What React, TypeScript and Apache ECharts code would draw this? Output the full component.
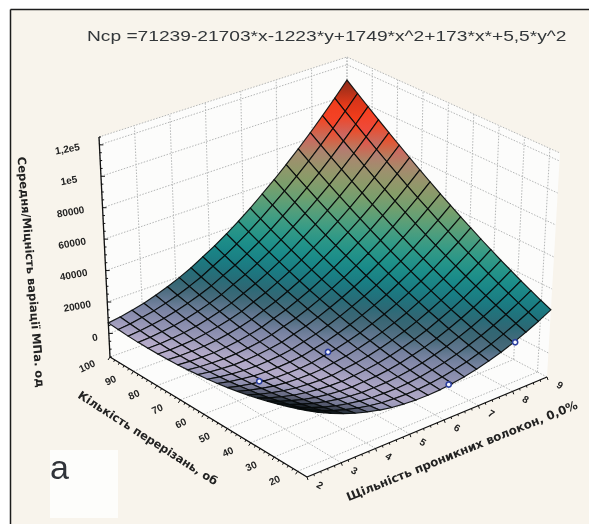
import React, { useEffect, useRef } from "react";
import * as echarts from "echarts";

const titleText = "Ncp =71239-21703*x-1223*y+1749*x^2+173*x*+5,5*y^2";
const zAxisTitle = "Середня/Міцність варіації МПа. од";
const yAxisTitle = "Кількість перерізань, об";
const xAxisTitle = "Щільність проникних волокон, 0,0%";
const panelLabel = "a";

const xTicks = [2, 3, 4, 5, 6, 7, 8, 9];
const yTicks = [100, 90, 80, 70, 60, 50, 40, 30, 20];
const zTicks = [0, 20000, 40000, 60000, 80000, 100000, 120000];
const zTickLabels = ["0", "20000", "40000", "60000", "80000", "1e5", "1,2e5"];
const xRange = [2, 9];
const yRange = [16, 100];
const zRange = [-15000, 125000];

// surface heights in thousands, one row per y step (front to back), one column per x step
const surfaceRows = [
  [25, 21, 17.5, 14.3, 11.6, 9.4, 7.5, 6.1, 5.2, 4.6, 4.5, 4.8, 5.6, 6.7, 8.3, 10.4, 12.8, 15.7, 19.1, 22.8, 27],
  [22.7, 18.9, 15.7, 12.7, 10.3, 8.3, 6.7, 5.5, 4.9, 4.6, 4.7, 5.3, 6.3, 7.7, 9.5, 11.9, 14.5, 17.7, 21.3, 25.3, 29.7],
  [20.5, 17, 14, 11.3, 9.1, 7.4, 6, 5.1, 4.8, 4.7, 5.1, 5.9, 7.2, 8.8, 10.9, 13.5, 16.4, 19.8, 23.7, 27.9, 32.6],
  [18.5, 15.2, 12.5, 10, 8.1, 6.6, 5.5, 4.8, 4.8, 5, 5.6, 6.7, 8.2, 10.1, 12.4, 15.3, 18.4, 22.1, 26.2, 30.7, 35.6],
  [16.6, 13.6, 11.1, 8.9, 7.2, 6, 5.1, 4.7, 5, 5.4, 6.3, 7.6, 9.4, 11.5, 14.1, 17.2, 20.6, 24.5, 28.9, 33.6, 38.8],
  [14.9, 12.1, 9.9, 7.9, 6.5, 5.5, 4.9, 4.7, 5.3, 6, 7.1, 8.7, 10.7, 13.1, 15.9, 19.3, 22.9, 27.1, 31.7, 36.7, 42.1],
  [13.3, 10.8, 8.8, 7.1, 5.9, 5.2, 4.8, 4.9, 5.8, 6.7, 8.1, 9.9, 12.2, 14.8, 17.9, 21.5, 25.4, 29.8, 34.7, 39.9, 45.6],
  [11.8, 9.6, 7.9, 6.4, 5.5, 5, 4.9, 5.2, 6.4, 7.5, 9.2, 11.3, 13.8, 16.7, 20, 23.9, 28, 32.7, 37.8, 43.3, 49.2],
  [10.5, 8.6, 7.1, 5.9, 5.2, 5, 5.1, 5.7, 7.1, 8.5, 10.5, 12.8, 15.6, 18.7, 22.3, 26.4, 30.8, 35.7, 41.1, 46.8, 53],
  [9.4, 7.7, 6.5, 5.5, 5.1, 5.1, 5.5, 6.3, 8, 9.6, 11.9, 14.5, 17.5, 20.9, 24.7, 29.1, 33.7, 38.9, 44.5, 50.5, 56.9],
  [8.4, 7, 6, 5.3, 5.1, 5.4, 6, 7.1, 9, 10.9, 13.4, 16.3, 19.6, 23.2, 27.3, 31.9, 36.8, 42.2, 48.1, 54.3, 61],
  [7.6, 6.4, 5.7, 5.2, 5.3, 5.8, 6.7, 8, 10.2, 12.3, 15.1, 18.3, 21.8, 25.7, 30, 34.9, 40, 45.7, 51.8, 58.3, 65.2],
  [6.9, 6, 5.5, 5.3, 5.6, 6.4, 7.5, 9.1, 11.5, 13.9, 16.9, 20.3, 24.1, 28.3, 32.9, 38, 43.4, 49.3, 55.7, 62.4, 69.6],
  [6.3, 5.7, 5.5, 5.5, 6.1, 7.1, 8.5, 10.3, 13, 15.6, 18.9, 22.5, 26.6, 31.1, 35.9, 41.3, 46.9, 53.1, 59.7, 66.7, 74.1],
  [5.9, 5.5, 5.6, 5.9, 6.7, 8, 9.6, 11.7, 14.6, 17.5, 21, 24.9, 29.2, 34, 39.1, 44.7, 50.6, 57, 63.9, 71.1, 78.8],
  [5.7, 5.5, 5.9, 6.4, 7.5, 9, 10.9, 13.2, 16.4, 19.5, 23.3, 27.4, 32, 37.1, 42.4, 48.3, 54.4, 61.1, 68.2, 75.7, 83.6],
  [5.6, 5.7, 6.3, 7.1, 8.4, 10.2, 12.3, 14.9, 18.3, 21.7, 25.7, 30.1, 34.9, 40.3, 45.9, 52, 58.4, 65.3, 72.7, 80.4, 88.6],
  [5.6, 6, 6.9, 7.9, 9.5, 11.5, 13.9, 16.7, 20.4, 24, 28.3, 32.9, 38, 43.7, 49.5, 55.9, 62.5, 69.7, 77.3, 85.3, 93.7],
  [5.8, 6.5, 7.6, 8.9, 10.7, 13, 15.6, 18.7, 22.6, 26.5, 31, 35.9, 41.2, 47.2, 53.3, 59.9, 66.8, 74.2, 82.1, 90.3, 99],
  [6.2, 7.1, 8.5, 10, 12.1, 14.6, 17.5, 20.8, 25, 29.1, 33.9, 39, 44.6, 50.8, 57.2, 64, 71.2, 78.9, 87, 95.5, 104.4],
  [6.7, 7.8, 9.4, 11.2, 13.6, 16.4, 19.5, 23.1, 27.5, 31.9, 36.9, 42.3, 48.1, 54.6, 61.2, 68.3, 75.8, 83.7, 92.1, 100.8, 110],
];

// measured points: x, y, z
const observedX = [2.95, 4.95, 6.1, 8.0];
const observedY = [50, 50, 16, 16];
const observedZ = [6300, 8000, 5900, 15500];

const colorHeights = [4500, 6000, 7000, 9500, 13000, 15000, 18000, 22000, 30000, 40000, 50000, 60000, 68000, 76000, 82000, 85000, 88000, 100000, 105000, 110000];
const colorValues = ["#c4b8d2", "#b2a9c8", "#9a99b9", "#878bac", "#6c7c99", "#4f6e80", "#35626f", "#236c78", "#158488", "#25988a", "#52a07e", "#7fa066", "#94986a", "#a88a70", "#c07272", "#e8504a", "#fb3f1c", "#f83e1a", "#c83018", "#8a2a18"];

// the viewing transform of the 3D box: [front, right, left, back]
const floorCorners = [[307, 477], [547, 377], [110, 357], [347, 272]];
const ceilCorners = [[307, 245], [560, 153], [99, 137], [347, 57]];

const mix = (a: number[], b: number[], t: number) => [a[0] + (b[0] - a[0]) * t, a[1] + (b[1] - a[1]) * t];
const corner = (c: number[][], u: number, v: number) => mix(mix(c[0], c[1], u), mix(c[2], c[3], u), v);
const project = (x: number, y: number, z: number) => {
  const u = (x - xRange[0]) / (xRange[1] - xRange[0]);
  const v = (y - yRange[0]) / (yRange[1] - yRange[0]);
  const t = (z - zRange[0]) / (zRange[1] - zRange[0]);
  return mix(corner(floorCorners, u, v), corner(ceilCorners, u, v), t);
};
const hex = (s: string) => [1, 3, 5].map((k) => parseInt(s.slice(k, k + 2), 16));
const colorAt = (z: number, shade: number) => {
  let k = 0;
  while (k < colorHeights.length - 2 && z > colorHeights[k + 1]) k++;
  const t = Math.min(1, Math.max(0, (z - colorHeights[k]) / (colorHeights[k + 1] - colorHeights[k])));
  const a = hex(colorValues[k]);
  const b = hex(colorValues[k + 1]);
  const c = a.map((p, n) => Math.round((p + (b[n] - p) * t) * shade));
  return `rgb(${c[0]},${c[1]},${c[2]})`;
};

const rowCount = surfaceRows.length;
const colCount = surfaceRows[0].length;
const gridX = (i: number) => xRange[0] + ((xRange[1] - xRange[0]) * i) / (colCount - 1);
const gridY = (j: number) => yRange[0] + ((yRange[1] - yRange[0]) * j) / (rowCount - 1);

const cells: number[][] = [];
for (let j = rowCount - 2; j >= 0; j--) for (let i = colCount - 2; i >= 0; i--) cells.push([i, j]);

type Seg = [number[], number[]];
const wallSegs: Seg[] = [];
const [x0, x1] = xRange;
const [y0, y1] = yRange;
const [z0, z1] = zRange;
xTicks.forEach((x) => {
  wallSegs.push([[x, y0, z0], [x, y1, z0]]);
  wallSegs.push([[x, y1, z0], [x, y1, z1]]);
});
yTicks.forEach((y) => {
  wallSegs.push([[x0, y, z0], [x1, y, z0]]);
  wallSegs.push([[x1, y, z0], [x1, y, z1]]);
});
[...zTicks, z1].forEach((z) => {
  wallSegs.push([[x0, y1, z], [x1, y1, z]]);
  wallSegs.push([[x1, y1, z], [x1, y0, z]]);
});

const axisLines: Seg[] = [
  [[x0, y1, z0], [x0, y1, z1]],
  [[x0, y1, z0], [x0, y0, z0]],
  [[x0, y0, z0], [x1, y0, z0]],
];

type Tick = { p: number[]; dx: number; dy: number };
const tickList: Tick[] = [];
for (let z = -15000; z <= 125000; z += 5000) {
  const major = z % 20000 === 0;
  tickList.push({ p: [x0, y1, z], dx: major ? 4 : 2, dy: 0 });
}
for (let y = 20; y <= 100; y += 2) {
  const major = y % 10 === 0;
  tickList.push({ p: [x0, y, z0], dx: major ? -2 : -1, dy: major ? 3 : 2 });
}
for (let x = 2; x <= 9.001; x += 0.2) {
  const major = Math.abs(x - Math.round(x)) < 0.01;
  tickList.push({ p: [x, y0, z0], dx: major ? 1 : 0.5, dy: major ? 3 : 2 });
}

type Lab = { text: string; p: number[]; dx: number; dy: number; rot: number; size: number };
const labels: Lab[] = [
  ...zTicks.map((z, k) => ({ text: zTickLabels[k], p: [x0, y1, z], dx: k === 0 ? -14 : k === 1 ? -30 : -32, dy: 4, rot: 10, size: 10 })),
  ...yTicks.map((y) => ({ text: String(y), p: [x0, y, z0], dx: -23, dy: 9, rot: 25, size: 10 })),
  ...xTicks.map((x) => ({ text: String(x), p: [x, y0, z0], dx: 13, dy: 8, rot: -30, size: 10 })),
];

const App = () => {
  const ref = useRef<HTMLDivElement>(null);
  useEffect(() => {
    document.body.style.margin = "0";
    document.body.style.overflow = "hidden";
    const chart = echarts.init(ref.current!, undefined, { renderer: "svg" });
    const polygon = (api: any, pts: number[][]) => pts.map((p) => api.coord(p));
    const wallFaces = [
      [[x0, y1, z0], [x1, y1, z0], [x1, y1, z1], [x0, y1, z1]],
      [[x1, y0, z0], [x1, y1, z0], [x1, y1, z1], [x1, y0, z1]],
      [[x0, y0, z0], [x1, y0, z0], [x1, y1, z0], [x0, y1, z0]],
    ];
    chart.setOption({
      animation: false,
      backgroundColor: "#f8f4ec",
      grid: { left: 0, right: 0, top: 0, bottom: 0 },
      xAxis: { type: "value", min: 0, max: 589, show: false },
      yAxis: { type: "value", min: 0, max: 524, inverse: true, show: false },
      graphic: [
        { type: "rect", shape: { x: 0, y: 0, width: 589, height: 9 }, style: { fill: "#ffffff" } },
        { type: "rect", shape: { x: 0, y: 0, width: 10, height: 524 }, style: { fill: "#ffffff" } },
        { type: "line", shape: { x1: 10.5, y1: 9.5, x2: 589, y2: 9.5 }, style: { stroke: "#1c1c1c", lineWidth: 1.5 } },
        { type: "line", shape: { x1: 10.5, y1: 9.5, x2: 10.5, y2: 524 }, style: { stroke: "#1c1c1c", lineWidth: 1.5 } },
        { type: "rect", shape: { x: 50, y: 450, width: 68, height: 68 }, style: { fill: "#fdfdfb" } },
        { type: "text", x: 87, y: 29, scaleX: 1.37, style: { text: titleText, font: "14px 'Liberation Sans'", fill: "#33373a" } },
        { type: "text", x: 50, y: 450, style: { text: panelLabel, font: "34px 'Liberation Sans'", fill: "#30343a" } },
        { type: "text", x: 31, y: 272, rotation: (-85.3 * Math.PI) / 180, style: { text: zAxisTitle, font: "bold 11.5px 'DejaVu Sans'", fill: "#222", textAlign: "center", textVerticalAlign: "middle" } },
        { type: "text", x: 148, y: 438, rotation: (-32.7 * Math.PI) / 180, style: { text: yAxisTitle, font: "bold 11.5px 'DejaVu Sans'", fill: "#222", textAlign: "center", textVerticalAlign: "middle" } },
        { type: "text", x: 462, y: 451, rotation: (22 * Math.PI) / 180, style: { text: xAxisTitle, font: "bold 11.8px 'DejaVu Sans'", fill: "#222", textAlign: "center", textVerticalAlign: "middle" } },
      ],
      series: [
        {
          type: "custom",
          coordinateSystem: "cartesian2d",
          clip: false,
          silent: true,
          data: wallFaces.map((_, k) => [k]),
          renderItem: (p: any, api: any) => ({
            type: "polygon",
            shape: { points: polygon(api, wallFaces[p.dataIndex].map((c) => project(c[0], c[1], c[2]))) },
            style: { fill: "#fcfcfb", stroke: "none" },
          }),
          z: 2,
        },
        {
          type: "custom",
          coordinateSystem: "cartesian2d",
          clip: false,
          silent: true,
          data: wallSegs.map((_, k) => [k]),
          renderItem: (p: any, api: any) => {
            const [a, b] = wallSegs[p.dataIndex];
            const pa = api.coord(project(a[0], a[1], a[2]));
            const pb = api.coord(project(b[0], b[1], b[2]));
            return {
              type: "line",
              shape: { x1: pa[0], y1: pa[1], x2: pb[0], y2: pb[1] },
              style: { stroke: "#b4b6b6", lineWidth: 1, lineDash: [1.5, 1.5] },
            };
          },
          z: 3,
        },
        {
          type: "custom",
          coordinateSystem: "cartesian2d",
          clip: false,
          silent: true,
          data: axisLines.map((_, k) => [k]),
          renderItem: (p: any, api: any) => {
            const [a, b] = axisLines[p.dataIndex];
            const pa = api.coord(project(a[0], a[1], a[2]));
            const pb = api.coord(project(b[0], b[1], b[2]));
            return {
              type: "line",
              shape: { x1: pa[0], y1: pa[1], x2: pb[0], y2: pb[1] },
              style: { stroke: "#111", lineWidth: 1.3 },
            };
          },
          z: 4,
        },
        {
          type: "custom",
          coordinateSystem: "cartesian2d",
          clip: false,
          silent: true,
          data: tickList.map((_, k) => [k]),
          renderItem: (p: any, api: any) => {
            const t = tickList[p.dataIndex];
            const a = api.coord(project(t.p[0], t.p[1], t.p[2]));
            return {
              type: "line",
              shape: { x1: a[0], y1: a[1], x2: a[0] + t.dx, y2: a[1] + t.dy },
              style: { stroke: "#111", lineWidth: 1 },
            };
          },
          z: 4,
        },
        {
          type: "custom",
          coordinateSystem: "cartesian2d",
          clip: false,
          silent: true,
          data: cells,
          renderItem: (p: any, api: any) => {
            const [i, j] = cells[p.dataIndex];
            const corners = [[i, j], [i + 1, j], [i + 1, j + 1], [i, j + 1]].map(([a, b]) => {
              const z = surfaceRows[b][a] * 1000;
              return { z: z < 15000 ? z + (3500 * a) / (colCount - 1) : z, c: api.coord(project(gridX(a), gridY(b), z)) };
            });
            const pts = corners.map((c) => c.c);
            let area = 0;
            pts.forEach((q, n) => {
              const r = pts[(n + 1) % 4];
              area += q[0] * r[1] - r[0] * q[1];
            });
            area = Math.abs(area) / 2;
            const shade = Math.max(0.22, Math.min(1, (area - 40) / 60 + 0.3));
            const top = corners.reduce((m, c) => (c.c[1] < m.c[1] ? c : m));
            const bottom = corners.reduce((m, c) => (c.c[1] > m.c[1] ? c : m));
            return {
              type: "polygon",
              shape: { points: pts },
              style: {
                fill: new echarts.graphic.LinearGradient(0, 0, 0, 1, [
                  { offset: 0, color: colorAt(top.z, shade) },
                  { offset: 1, color: colorAt(bottom.z, shade) },
                ]),
                stroke: "rgba(6,10,10,0.92)",
                lineWidth: 1.15,
              },
            };
          },
          z: 5,
        },
        {
          type: "custom",
          coordinateSystem: "cartesian2d",
          clip: false,
          silent: true,
          data: observedX.map((x, k) => [x, observedY[k], observedZ[k]]),
          renderItem: (p: any, api: any) => {
            const k = p.dataIndex;
            const c = api.coord(project(observedX[k], observedY[k], observedZ[k]));
            return {
              type: "circle",
              shape: { cx: c[0], cy: c[1], r: 2.6 },
              style: { fill: "#f4f6ff", stroke: "#2b3f9e", lineWidth: 1.6 },
            };
          },
          z: 6,
        },
        {
          type: "custom",
          coordinateSystem: "cartesian2d",
          clip: false,
          silent: true,
          data: labels.map((_, k) => [k]),
          renderItem: (p: any, api: any) => {
            const l = labels[p.dataIndex];
            const c = api.coord(project(l.p[0], l.p[1], l.p[2]));
            return {
              type: "text",
              x: c[0] + l.dx,
              y: c[1] + l.dy,
              rotation: (l.rot * Math.PI) / 180,
              style: {
                text: l.text,
                font: `bold ${l.size}px 'Liberation Sans'`,
                fill: "#222",
                textAlign: "center",
                textVerticalAlign: "middle",
              },
            };
          },
          z: 7,
        },
      ],
    });
    return () => chart.dispose();
  }, []);
  return (
    <div
      ref={ref}
      style={{ position: "absolute", left: 0, top: 0, width: 589, height: 524, filter: "blur(0.45px)" }}
    />
  );
};

export default App;
